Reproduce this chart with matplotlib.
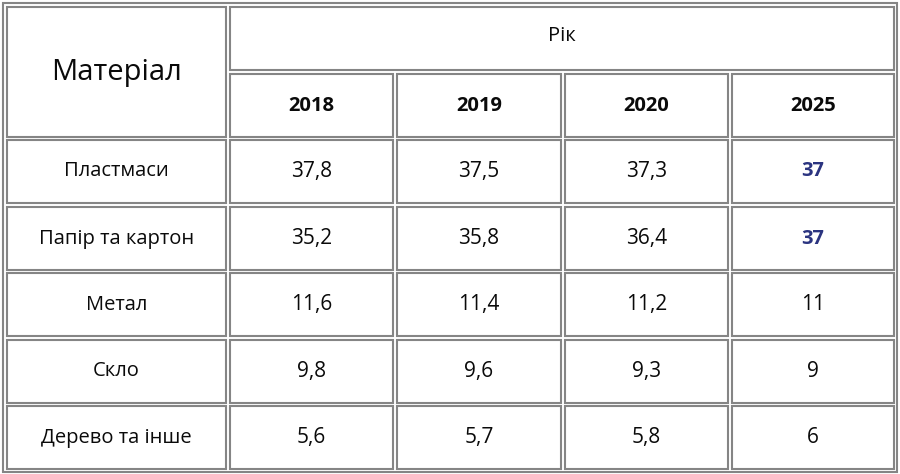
import matplotlib
matplotlib.use('Agg')
import matplotlib.pyplot as plt
from matplotlib.patches import Rectangle

# table content
materials = ['Пластмаси', 'Папір та картон', 'Метал', 'Скло', 'Дерево та інше']
years = ['2018', '2019', '2020', '2025']
v2018 = [37.8, 35.2, 11.6, 9.8, 5.6]
v2019 = [37.5, 35.8, 11.4, 9.6, 5.7]
v2020 = [37.3, 36.4, 11.2, 9.3, 5.8]
v2025 = [37, 37, 11, 9, 6]
highlight_2025 = [True, True, False, False, False]

# layout in pixels
W, H = 900, 474
col_x = [7, 230, 397, 565, 732]
col_w = [219, 163, 164, 163, 162]
row_y = [7, 74, 140, 207, 273, 340, 406]
row_h = 63
border = '#858585'
fonts = ['Open Sans', 'DejaVu Sans']


def fmt(v):
    if float(v).is_integer():
        return str(int(v))
    return ('%.1f' % v).replace('.', ',')


fig = plt.figure(figsize=(W / 100, H / 100), dpi=100)
ax = fig.add_axes([0, 0, 1, 1])
ax.set_xlim(0, W)
ax.set_ylim(H, 0)
ax.axis('off')


def cell(x, y, w, h, text, size=15, weight='normal', color='#0a0a0a', dy=0):
    ax.add_patch(Rectangle((x, y), w, h, fill=False, edgecolor=border, lw=1.5))
    ax.text(x + w / 2, y + h / 2 + dy, text, ha='center', va='center',
            fontsize=size, fontweight=weight, color=color, family=fonts)


# outer table frame
ax.add_patch(Rectangle((2.5, 2.5), 894, 469, fill=False, edgecolor=border, lw=1.5))

# header
cell(col_x[0], row_y[0], col_w[0], row_y[1] + row_h - row_y[0], 'Матеріал', size=21)
right = col_x[-1] + col_w[-1]
cell(col_x[1], row_y[0], right - col_x[1], row_h, 'Рік', size=14.5, dy=-3)
for j, yr in enumerate(years):
    cell(col_x[j + 1], row_y[1], col_w[j + 1], row_h, yr, size=14.5, weight='bold')

# body
columns = [v2018, v2019, v2020, v2025]
for i, m in enumerate(materials):
    y = row_y[i + 2]
    cell(col_x[0], y, col_w[0], row_h, m, size=14.5)
    for j, vals in enumerate(columns):
        if j == 3 and highlight_2025[i]:
            cell(col_x[j + 1], y, col_w[j + 1], row_h, fmt(vals[i]), size=14.5,
                 weight='bold', color='#2b3480')
        else:
            cell(col_x[j + 1], y, col_w[j + 1], row_h, fmt(vals[i]), size=15)

fig.savefig('out.png', dpi=100)
